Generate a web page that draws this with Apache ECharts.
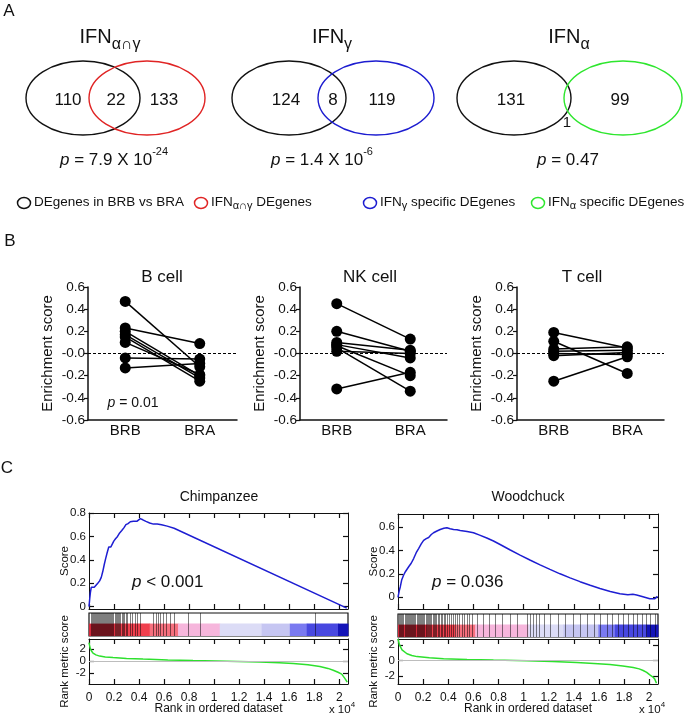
<!DOCTYPE html>
<html><head><meta charset="utf-8">
<script src="https://cdn.jsdelivr.net/npm/echarts@6/dist/echarts.min.js"></script>
<style>html,body{margin:0;padding:0;background:#fff}#c{width:685px;height:716px}</style>
</head><body><div id="c"></div>
<script>
// ================= DATA =================
// Panel A : Venn diagrams
const vennTitleMain = ['IFN', 'IFN', 'IFN'];
const vennTitleSub = ['α∩γ', 'γ', 'α'];
const vennOnlyDE = [110, 124, 131];
const vennShared = [22, 8, 1];
const vennOnlyIFN = [133, 119, 99];
const vennPMantissa = ['7.9 X 10', '1.4 X 10', '0.47'];
const vennPExponent = ['-24', '-6', ''];
const legendMain = ['DEgenes in BRB vs BRA', 'IFN', 'IFN', 'IFN'];
const legendSub = ['', 'α∩γ', 'γ', 'α'];
const legendTail = ['', ' DEgenes', ' specific DEgenes', ' specific DEgenes'];

// Panel B : enrichment scores (paired BRB -> BRA)
const cellTypes = ['B cell', 'NK cell', 'T cell'];
const groups = ['BRB', 'BRA'];
const bCellBRB = [0.47, 0.23, 0.20, 0.17, 0.15, 0.10, -0.04, -0.13];
const bCellBRA = [-0.12, 0.09, -0.20, -0.22, -0.25, -0.19, -0.05, -0.09];
const nkCellBRB = [0.45, 0.20, 0.10, 0.08, 0.07, 0.05, 0.02, -0.32];
const nkCellBRA = [0.13, 0.02, 0.03, -0.04, -0.20, -0.34, 0.00, -0.17];
const tCellBRB = [0.19, 0.11, 0.04, 0.02, 0.00, -0.02, -0.25];
const tCellBRA = [0.05, -0.18, 0.06, 0.03, -0.01, 0.01, -0.03];
const esTickLabels = ['-0.6', '-0.4', '-0.2', '-0.0', '0.2', '0.4', '0.6'];
const bPValue = '0.01';

// Panel C : GSEA
const gseaTitles = ['Chimpanzee', 'Woodchuck'];
const gseaPText = ['< 0.001', '= 0.036'];
const rankTicks = [0, 2000, 4000, 6000, 8000, 10000, 12000, 14000, 16000, 18000, 20000];
const chimpScoreTicks = [0, 0.2, 0.4, 0.6, 0.8];
const woodScoreTicks = [0, 0.2, 0.4, 0.6];
const metricTicks = [-2, 0, 2];
const chimpES = [[0,0],[60,0.07],[110,0.12],[180,0.165],[420,0.165],[560,0.18],[700,0.2],[850,0.22],[980,0.25],[1100,0.3],[1220,0.36],[1330,0.41],[1450,0.46],[1580,0.51],[1750,0.51],[1880,0.52],[1980,0.56],[2120,0.58],[2280,0.6],[2450,0.63],[2620,0.65],[2800,0.675],[2950,0.70],[3120,0.71],[3300,0.725],[3550,0.73],[3850,0.73],[4000,0.745],[4100,0.752],[4300,0.742],[4550,0.728],[4850,0.715],[5150,0.705],[5450,0.707],[5800,0.70],[6250,0.688],[6800,0.67],[20350,0],[20600,-0.012]];
const woodES = [[0,0],[90,0.05],[185,0.09],[300,0.15],[450,0.19],[600,0.22],[850,0.26],[1050,0.29],[1245,0.33],[1450,0.38],[1640,0.415],[1850,0.455],[2040,0.485],[2250,0.5],[2440,0.51],[2650,0.535],[2830,0.55],[3100,0.565],[3360,0.578],[3650,0.588],[3890,0.593],[4150,0.585],[4420,0.578],[4700,0.575],[4950,0.57],[5500,0.56],[6010,0.55],[6500,0.53],[7070,0.505],[7600,0.48],[8130,0.45],[8900,0.405],[9720,0.36],[10500,0.318],[11310,0.276],[12100,0.238],[12900,0.2],[13700,0.165],[14490,0.133],[15300,0.103],[16080,0.075],[16900,0.05],[17670,0.03],[18300,0.022],[18700,0.025],[19000,0.02],[19500,0.005],[20050,-0.012],[20450,-0.012],[20660,0.008]];
const chimpMetric = [[0,3.1],[50,2.6],[107,2.1],[200,1.7],[320,1.35],[550,1.05],[853,0.85],[1300,0.7],[1920,0.6],[3000,0.46],[4320,0.35],[6300,0.22],[8320,0.1],[11000,0],[13650,-0.15],[15200,-0.27],[16320,-0.4],[17500,-0.6],[18450,-0.9],[19100,-1.2],[19520,-1.5],[19900,-1.85],[20200,-2.15],[20460,-2.9],[20640,-3.5]];
const woodMetric = [[0,2.8],[60,2.4],[130,2.0],[320,1.4],[715,0.9],[1100,0.68],[1510,0.53],[2500,0.38],[3630,0.27],[5500,0.16],[7600,0.08],[10250,0],[12300,-0.1],[14220,-0.23],[15600,-0.36],[16870,-0.5],[17900,-0.68],[18730,-0.88],[19200,-1.05],[19520,-1.26],[19800,-1.5],[20050,-1.83],[20300,-2.1],[20450,-2.4],[20580,-2.9]];
const chimpHits = [150,250,330,420,480,560,650,720,800,880,950,1050,1120,1180,1270,1340,1420,1500,1600,1680,1750,1860,1950,2070,2180,2260,2330,2420,2510,2630,2700,2790,2920,3060,3250,3450,3650,3840,4050,5120,5330,5520,5650,5920,6190,6450,6770,7920,8850,18050];
const woodHits = [80,170,260,350,430,520,610,700,790,860,950,1040,1130,1210,1300,1390,1480,1560,1650,1740,1830,1920,2010,2100,2200,2290,2380,2470,2560,2660,2750,2850,2950,3060,3170,3290,3400,3520,3650,3780,3910,4050,4200,4360,4520,4700,4880,5060,5250,5460,5680,5900,6300,6800,7250,7700,8300,8900,9500,10250,10500,10720,10950,11200,11600,12100,12700,13300,13900,14500,15050,15600,16100,16600,17050,17500,17900,18300,18700,19050,19400,19750,20100,20450];
const chimpHeatBreaks = [0, 2050, 4850, 7120, 10450, 13800, 16050, 17400, 19900, 20700];
const woodHeatBreaks = [0, 2300, 4550, 6150, 10380, 13170, 15950, 17270, 19790, 20700];

// ================= STYLE / LAYOUT =================
const FONT = '"Liberation Sans", Arial, Helvetica, sans-serif';
const heatColors = ['#d4283a', '#f0404e', '#f6707e', '#f6b6dc', '#dcdcf6', '#c6c6f2', '#7a7af0', '#4848e0', '#1414b8'];
const vennColors = ['#e02424', '#1c1cd0', '#2ee62e'];
const RANK_MAX = 20700;

const chart = echarts.init(document.getElementById('c'));
const grids = [], xAxes = [], yAxes = [], series = [], els = [];

function txt(x, y, text, size, opts) {
  els.push(Object.assign({type: 'text', x: x, y: y, silent: true,
    style: Object.assign({text: text, fontSize: size, fontFamily: FONT, fill: '#111', align: 'center', verticalAlign: 'middle'}, opts || {})}));
}

// ---------- Panel letters ----------
txt(9, 11, 'A', 17);
txt(10, 241, 'B', 17);
txt(7, 468, 'C', 17);

// ---------- Panel A ----------
const vennLayout = [
  {bx: 83, ox: 147, orx: 58, t: 110, n1: 68, n2: 116, n3: 164, n2y: 100, p: 114},
  {bx: 289, ox: 376, orx: 58, t: 332, n1: 286, n2: 333, n3: 382, n2y: 100, p: 322},
  {bx: 514, ox: 623, orx: 59, t: 569, n1: 511, n2: 567, n3: 620, n2y: 123, p: 568}
];
vennLayout.forEach((L, i) => {
  els.push({type: 'ellipse', silent: true, shape: {cx: L.bx, cy: 98, rx: 57, ry: 37}, style: {fill: 'none', stroke: '#111', lineWidth: 1.4}});
  els.push({type: 'ellipse', silent: true, shape: {cx: L.ox, cy: 98, rx: L.orx, ry: 37}, style: {fill: 'none', stroke: vennColors[i], lineWidth: 1.4}});
  txt(L.t, 38, '{a|' + vennTitleMain[i] + '}{s|' + vennTitleSub[i] + '}', 19, {
    rich: {a: {fontSize: 20, fontFamily: FONT, lineHeight: 22, verticalAlign: 'top', fill: '#111'},
           s: {fontSize: 16, fontFamily: FONT, lineHeight: 16, verticalAlign: 'top', padding: [10, 0, 0, 0], fill: '#111'}}});
  txt(L.n1, 100, String(vennOnlyDE[i]), 17);
  txt(L.n2, L.n2y, String(vennShared[i]), i === 2 ? 15 : 17);
  txt(L.n3, 100, String(vennOnlyIFN[i]), 17);
  const ptxt = '{i|p}{n| = ' + vennPMantissa[i] + '}' + (vennPExponent[i] ? '{e|' + vennPExponent[i] + '}' : '');
  txt(L.p, 155, ptxt, 17, {rich: {
    i: {fontSize: 17, fontStyle: 'italic', fontFamily: FONT, lineHeight: 17, verticalAlign: 'top', padding: [5, 0, 0, 0], fill: '#111'},
    n: {fontSize: 17, fontFamily: FONT, lineHeight: 17, verticalAlign: 'top', padding: [5, 0, 0, 0], fill: '#111'},
    e: {fontSize: 11, fontFamily: FONT, lineHeight: 11, verticalAlign: 'top', fill: '#111'}}});
});
// legend
const legIcon = [24, 201, 370, 538];
const legColors = ['#111', vennColors[0], vennColors[1], vennColors[2]];
legIcon.forEach((x, i) => {
  els.push({type: 'ellipse', silent: true, shape: {cx: x, cy: 203, rx: 6.5, ry: 5.5}, style: {fill: 'none', stroke: legColors[i], lineWidth: 1.5}});
  let t = '{m|' + legendMain[i] + '}';
  if (legendSub[i]) t += '{s|' + legendSub[i] + '}';
  if (legendTail[i]) t += '{m|' + legendTail[i] + '}';
  txt(x + 10, 203, t, 13.5, {align: 'left', rich: {
    m: {fontSize: 13.5, fontFamily: FONT, lineHeight: 16, verticalAlign: 'top', fill: '#111'},
    s: {fontSize: 11, fontFamily: FONT, lineHeight: 11, verticalAlign: 'top', padding: [5, 0, 0, 0], fill: '#111'}}});
});

// ---------- Panel B ----------
const bLayout = [{left: 88, width: 149, title: 162}, {left: 300, width: 147, title: 370}, {left: 517, width: 147, title: 582}];
const cellData = [[bCellBRB, bCellBRA], [nkCellBRB, nkCellBRA], [tCellBRB, tCellBRA]];
bLayout.forEach((L, i) => {
  grids.push({left: L.left, top: 287, width: L.width, height: 133});
  xAxes.push({type: 'category', gridIndex: i, data: groups, boundaryGap: true,
    axisLine: {onZero: false, lineStyle: {color: '#111', width: 1.5}},
    axisTick: {alignWithLabel: true, length: 4, lineStyle: {color: '#111', width: 1.2}},
    axisLabel: {color: '#111', fontSize: 15, fontFamily: FONT, margin: 3}});
  yAxes.push({type: 'value', gridIndex: i, min: -0.6, max: 0.6, interval: 0.2,
    name: 'Enrichment score', nameLocation: 'middle', nameGap: 33, nameMoveOverlap: false,
    nameTextStyle: {fontSize: 15, color: '#111', fontFamily: FONT},
    axisLine: {show: true, lineStyle: {color: '#111', width: 1.5}},
    axisTick: {show: true, length: 4, lineStyle: {color: '#111', width: 1.2}},
    axisLabel: {color: '#111', fontSize: 13.5, fontFamily: FONT, margin: 3, hideOverlap: false, formatter: (v, idx) => esTickLabels[idx]},
    splitLine: {show: false}});
  const brb = cellData[i][0], bra = cellData[i][1];
  brb.forEach((v, j) => {
    const s = {type: 'line', xAxisIndex: i, yAxisIndex: i, data: [v, bra[j]], symbol: 'circle', symbolSize: 11,
      itemStyle: {color: '#000'}, lineStyle: {color: '#000', width: 1.5}, silent: true, z: 3};
    if (j === 0) s.markLine = {silent: true, symbol: ['none', 'none'], label: {show: false}, z: 2,
      lineStyle: {color: '#000', type: [3, 2], width: 1.2}, data: [{yAxis: 0}]};
    series.push(s);
  });
  txt(L.title, 277, cellTypes[i], 17);
});
txt(133, 403, '{i|p}{n| = ' + bPValue + '}', 14, {rich: {
  i: {fontSize: 14, fontStyle: 'italic', fontFamily: FONT, fill: '#111'},
  n: {fontSize: 14, fontFamily: FONT, fill: '#111'}}});

// ---------- Panel C ----------
const cLayout = [
  {left: 89, width: 259, topT: 513, topH: 96, barT: 613, barH: 23, rkT: 639, rkH: 50, ymin: -0.02, ymax: 0.8, sTicks: chimpScoreTicks, mmin: -3.8, mmax: 3.7,
   es: chimpES, metric: chimpMetric, hits: chimpHits, breaks: chimpHeatBreaks, title: 219, pX: 132, xExp: 342},
  {left: 398, width: 260, topT: 514, topH: 95, barT: 614, barH: 23, rkT: 639, rkH: 51, ymin: -0.1, ymax: 0.71, sTicks: woodScoreTicks, mmin: -3.0, mmax: 2.8,
   es: woodES, metric: woodMetric, hits: woodHits, breaks: woodHeatBreaks, title: 528, pX: 432, xExp: 652}
];
const tickStyle = {show: true, inside: true, length: 5, lineStyle: {color: '#111', width: 1.2}};
const boxLine = {show: true, onZero: false, lineStyle: {color: '#111', width: 1}};
const lblStyle = {color: '#111', fontSize: 11.5, fontFamily: FONT, hideOverlap: false, lineHeight: 11};
function addBoxAxes(g, ymin, ymax, yTicks, yFmt, yName, xLabels, xName) {
  const xi = xAxes.length, yi = yAxes.length;
  xAxes.push({type: 'value', gridIndex: g, min: 0, max: RANK_MAX, position: 'bottom', axisLine: boxLine, splitLine: {show: false},
    axisTick: Object.assign({customValues: rankTicks}, tickStyle),
    axisLabel: xLabels ? Object.assign({}, lblStyle, {customValues: rankTicks, margin: 8, fontSize: 12, lineHeight: 12, formatter: v => v === 0 ? '0' : String(+(v / 10000).toFixed(1))}) : {show: false},
    name: xName || '', nameLocation: 'middle', nameGap: 19, nameMoveOverlap: false, nameTextStyle: {fontSize: 12, color: '#111', fontFamily: FONT}});
  xAxes.push({type: 'value', gridIndex: g, min: 0, max: RANK_MAX, position: 'top', axisLine: boxLine, splitLine: {show: false},
    axisTick: Object.assign({customValues: rankTicks}, tickStyle), axisLabel: {show: false}});
  yAxes.push({type: 'value', gridIndex: g, min: ymin, max: ymax, position: 'left', axisLine: boxLine, splitLine: {show: false},
    axisTick: Object.assign({customValues: yTicks}, tickStyle),
    axisLabel: Object.assign({}, lblStyle, {customValues: yTicks, margin: 3, formatter: yFmt}),
    name: yName, nameLocation: 'middle', nameGap: 18, nameMoveOverlap: false, nameTextStyle: {fontSize: 11.5, color: '#111', fontFamily: FONT}});
  yAxes.push({type: 'value', gridIndex: g, min: ymin, max: ymax, position: 'right', axisLine: boxLine, splitLine: {show: false},
    axisTick: Object.assign({customValues: yTicks}, tickStyle), axisLabel: {show: false}});
  return {xi: xi, yi: yi};
}
cLayout.forEach((L, k) => {
  // top ES plot
  let g = grids.length;
  grids.push({left: L.left, width: L.width, top: L.topT, height: L.topH});
  let ax = addBoxAxes(g, L.ymin, L.ymax, L.sTicks, v => String(+v.toFixed(1)), 'Score', false, '');
  series.push({type: 'line', xAxisIndex: ax.xi, yAxisIndex: ax.yi, data: L.es, symbol: 'none', silent: true,
    lineStyle: {color: '#1e1ed2', width: 1.5}});
  // hit / heat bar
  g = grids.length;
  grids.push({left: L.left, width: L.width, top: L.barT, height: L.barH, show: true, borderColor: '#111', borderWidth: 1.2, backgroundColor: '#fff'});
  const bx = xAxes.length, by = yAxes.length;
  xAxes.push({type: 'value', gridIndex: g, min: 0, max: RANK_MAX, show: false});
  yAxes.push({type: 'value', gridIndex: g, min: 0, max: 1, show: false});
  const segs = [];
  for (let i = 0; i < L.breaks.length - 1; i++) segs.push([L.breaks[i], L.breaks[i + 1], i]);
  series.push({type: 'custom', xAxisIndex: bx, yAxisIndex: by, data: segs, encode: {x: [0, 1]}, silent: true, z: 1,
    renderItem: (params, api) => {
      const cs = params.coordSys;
      const x0 = api.coord([api.value(0), 0])[0], x1 = api.coord([api.value(1), 0])[0];
      return {type: 'rect', shape: {x: x0, y: cs.y + cs.height * 0.46, width: x1 - x0 + 0.5, height: cs.height * 0.54},
        style: {fill: heatColors[api.value(2)]}};
    }});
  series.push({type: 'custom', xAxisIndex: bx, yAxisIndex: by, data: L.hits.map(h => [h]), encode: {x: 0}, silent: true, z: 2,
    renderItem: (params, api) => {
      const cs = params.coordSys;
      const x = Math.round(api.coord([api.value(0), 0])[0]) + 0.5;
      return {type: 'line', shape: {x1: x, y1: cs.y, x2: x, y2: cs.y + cs.height},
        style: {stroke: 'rgba(0,0,0,0.5)', lineWidth: 1}};
    }});
  // rank metric
  g = grids.length;
  grids.push({left: L.left, width: L.width, top: L.rkT, height: L.rkH});
  ax = addBoxAxes(g, L.mmin, L.mmax, metricTicks, v => String(v), 'Rank metric score', true, 'Rank in ordered dataset');
  series.push({type: 'line', xAxisIndex: ax.xi, yAxisIndex: ax.yi, data: L.metric, symbol: 'none', silent: true,
    lineStyle: {color: '#2ee02e', width: 1.5},
    markLine: {silent: true, symbol: ['none', 'none'], label: {show: false}, lineStyle: {color: '#bdbdbd', type: 'solid', width: 1}, data: [{yAxis: 0}]}});
  txt(L.title, 497, gseaTitles[k], 14);
  txt(L.pX, 582, '{i|p}{n| ' + gseaPText[k] + '}', 17, {align: 'left', rich: {
    i: {fontSize: 17, fontStyle: 'italic', fontFamily: FONT, fill: '#111'},
    n: {fontSize: 17, fontFamily: FONT, fill: '#111'}}});
  txt(L.xExp, 707, '{n|x 10}{e|4}', 11.5, {rich: {
    n: {fontSize: 11.5, fontFamily: FONT, lineHeight: 12, verticalAlign: 'top', padding: [3, 0, 0, 0], fill: '#111'},
    e: {fontSize: 8, fontFamily: FONT, lineHeight: 8, verticalAlign: 'top', fill: '#111'}}});
});

chart.setOption({
  animation: false,
  backgroundColor: '#fff',
  textStyle: {fontFamily: FONT, color: '#111'},
  grid: grids, xAxis: xAxes, yAxis: yAxes, series: series,
  graphic: {elements: els}
});
</script></body></html>
